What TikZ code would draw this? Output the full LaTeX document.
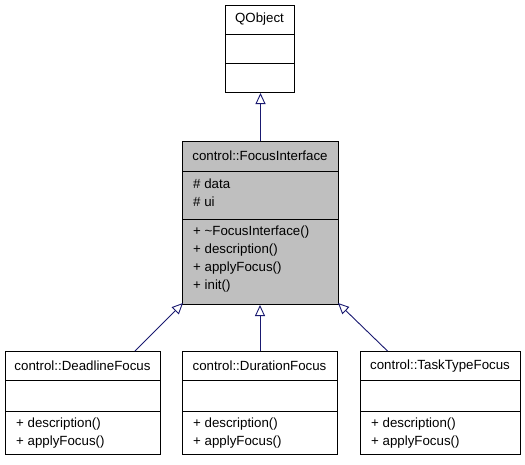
\documentclass[tikz,border=0pt]{standalone}
\usepackage{fontspec}
\setmainfont{Liberation Sans}
\usetikzlibrary{arrows.meta,positioning}
\definecolor{edgeblue}{HTML}{191970}
\definecolor{boxgray}{HTML}{BFBFBF}
\tikzset{
  classbox/.style={draw,line width=1pt,inner sep=0pt,anchor=north west},
  classname/.style={inner sep=0pt,font=\fontsize{13.3}{16}\selectfont},
  member/.style={anchor=west,inner sep=0pt,font=\fontsize{13.3}{16}\selectfont},
  divider/.style={line width=1pt},
  inherit/.style={edgeblue,line width=0.9pt,-{Triangle[open,length=11pt,width=10pt]}}
}

\begin{document}
\begin{tikzpicture}[x=1pt,y=-1pt]
      \useasboundingbox (0,0) rectangle (525,464);

      % base class
      \node[classbox,minimum width=69pt,minimum height=87pt] (qobj) at (225,5) {};
      \draw[divider] (225,34) -- (294,34);
      \draw[divider] (225,63) -- (294,63);
      \node[classname] (qobjname) at (259.5,19.5) {QObject};

      % the interface
      \node[classbox,fill=boxgray,minimum width=156pt,minimum height=163pt] (fi) at (182,141) {};
      \draw[divider] (182,171) -- (338,171);
      \draw[divider] (182,219) -- (338,219);
      \node[classname] (finame) at (260,156) {control::FocusInterface};
      \node[member] (fidata) at (193,184) {\# data};
      \node[member] (fiui) at (193,202) {\# ui};
      \node[member] (fidtor) at (193,232) {+ \textasciitilde FocusInterface()};
      \node[member] (fidesc) at (193,250) {+ description()};
      \node[member] (fiapply) at (193,268) {+ applyFocus()};
      \node[member] (fiinit) at (193,286) {+ init()};

      % derived classes
      \node[classbox,minimum width=155pt,minimum height=103pt] (dl) at (5,351) {};
      \draw[divider] (5,380) -- (160,380);
      \draw[divider] (5,411) -- (160,411);
      \node[classname] (dlname) at (82.5,366) {control::DeadlineFocus};
      \node[member] (dldesc) at (16,424) {+ description()};
      \node[member] (dlapply) at (16,442) {+ applyFocus()};

      \node[classbox,minimum width=155pt,minimum height=103pt] (du) at (182,351) {};
      \draw[divider] (182,380) -- (337,380);
      \draw[divider] (182,411) -- (337,411);
      \node[classname] (duname) at (259.5,366) {control::DurationFocus};
      \node[member] (dudesc) at (193,424) {+ description()};
      \node[member] (duapply) at (193,442) {+ applyFocus()};

      \node[classbox,minimum width=160pt,minimum height=103pt] (tt) at (360,351) {};
      \draw[divider] (360,380) -- (520,380);
      \draw[divider] (360,411) -- (520,411);
      \node[classname] (ttname) at (440,366) {control::TaskTypeFocus};
      \node[member] (ttdesc) at (371,424) {+ description()};
      \node[member] (ttapply) at (371,442) {+ applyFocus()};

      % inheritance
      \coordinate (dlhead) at (183,303);
      \coordinate (tthead) at (338,303);
      \draw[inherit] (fi.north) -- (fi.north |- qobj.south);
      \draw[inherit] (dl.north) ++(52,0) -- (dlhead);
      \draw[inherit] (du.north) -- (du.north |- fi.south);
      \draw[inherit] (tt.north) ++(-53,0) -- (tthead);
    \end{tikzpicture}
\end{document}
